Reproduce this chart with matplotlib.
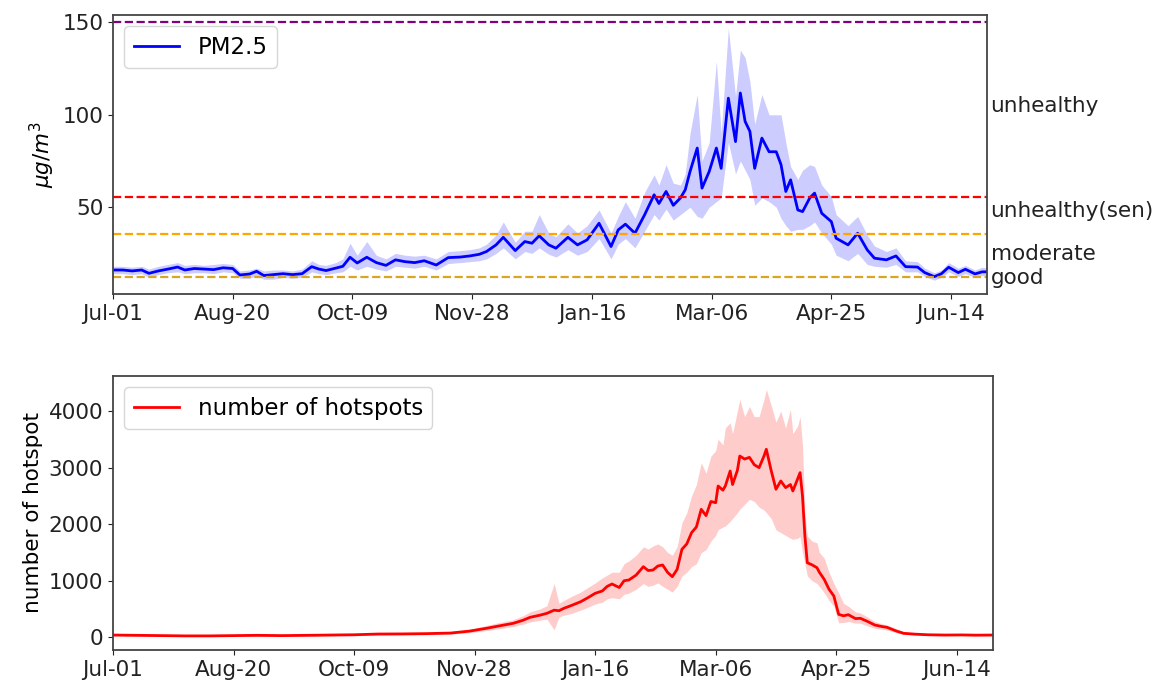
import numpy as np
import matplotlib
matplotlib.use('Agg')
import matplotlib.pyplot as plt

plt.rcParams.update({'font.size': 15.5, 'font.family': 'DejaVu Sans',
                     'axes.edgecolor': '#444444', 'axes.linewidth': 1.3,
                     'xtick.color': '#222222', 'ytick.color': '#222222'})

# days counted from Jul-01, one tick every 50 days
tick_days = [0, 50, 100, 150, 200, 250, 300, 350]
tick_labels = ['Jul-01', 'Aug-20', 'Oct-09', 'Nov-28', 'Jan-16', 'Mar-06', 'Apr-25', 'Jun-14']

# PM2.5 daily mean and spread (ug/m3)
pm_day = [0, 4, 8, 12, 15, 19, 23, 27, 30, 34, 38, 42, 46, 50, 53, 57, 60, 63, 67, 71,
          75, 79, 83, 86, 89, 93, 96, 99, 102, 106, 110, 114, 118, 122, 126, 130, 135, 140, 145, 149,
          153, 156, 160, 163, 168, 172, 175, 178, 182, 185, 190, 194, 198, 203, 208, 211, 214, 218, 222, 226,
          228, 231, 234, 237, 239, 241, 244, 246, 249, 252, 254, 257, 260, 262, 264, 266, 268, 271, 274, 277,
          279, 281, 283, 286, 288, 291, 293, 296, 300, 302, 307, 311, 315, 318, 323, 327, 331, 336, 339, 343,
          346, 349, 353, 356, 360, 363, 365]
pm_mean = [16, 16, 15.5, 16, 14.2, 15.5, 16.5, 17.6, 16, 16.8, 16.5, 16.2, 17.2, 16.8, 13.3, 13.8, 15.3, 13, 13.5, 14,
           13.5, 14, 17.8, 16.5, 15.7, 17, 18, 22.9, 19.8, 22.9, 20, 18.5, 21.5, 20.5, 20, 21, 18.7, 22.7, 23, 23.6,
           24.5, 26, 29.6, 33.7, 26.5, 31.4, 30.5, 34.5, 29.6, 27.8, 33.7, 29.6, 32.3, 41.3, 28.7, 37.7, 40.8, 35.9, 45.8, 56.7,
           52, 58.5, 51, 55, 59.4, 69.3, 82, 60.3, 69.3, 82, 71, 109, 85.5, 111.8, 96.4, 91, 71, 87.4, 80, 80,
           73, 58.5, 64.8, 48.5, 47.6, 55, 57.6, 46.7, 42.2, 33.2, 29.6, 35.9, 26.9, 22.4, 21.5, 23.6, 17.8, 17.6, 14.6, 12.4,
           14, 17.5, 14.6, 16.4, 13.9, 15, 15]
pm_lo = [14, 14, 13.5, 14, 12, 13.5, 14.5, 15, 14, 14.5, 14.5, 14, 15, 14.5, 11.5, 11.5, 13, 11, 11, 12,
         11.5, 12, 15, 14, 13.5, 14.5, 15, 18, 16, 18, 16.5, 15.5, 18, 17.5, 17, 18, 16, 19.5, 20, 20.5,
         21, 22, 25, 28, 22, 26, 25, 28, 24.5, 23, 27, 24, 26, 33, 22, 30, 33, 28, 37, 46,
         43, 49, 43, 46, 48, 50, 45, 44, 50, 53, 55, 85, 68, 75, 70, 65, 51, 55, 53, 50,
         44, 40, 37, 38, 38, 40, 42, 36, 30, 24, 21, 25, 19, 18, 17.5, 19, 15, 15, 12.5, 10.5,
         12, 15, 12.5, 14, 12, 13, 13]
pm_hi = [18, 18, 17.5, 18, 16.5, 18, 19, 20, 18.5, 19, 18.5, 19, 19.5, 19, 15.5, 16, 17, 15.5, 16, 16,
         15.5, 16.5, 21, 19, 18.5, 20, 22, 30.5, 24, 31.4, 24, 22, 25, 24, 23.5, 24, 22, 26, 26.5, 27,
         28, 30, 35, 42, 31, 37, 37, 46, 36, 34, 41, 36, 40, 48.5, 36, 45, 53, 44, 58, 67.5,
         62, 73, 63, 62, 68, 90, 111, 75, 85, 129, 90, 147, 110, 135, 131, 118, 95, 111, 100, 100,
         100, 85, 72, 65, 70, 73, 72, 62, 55.7, 46, 40, 45, 35, 29, 26, 28, 21, 20.5, 17, 14.5,
         16, 20, 17, 18.5, 16, 17.5, 17]

# daily hotspot counts and spread
hs_day = [0, 10, 20, 30, 40, 50, 60, 70, 80, 90, 100, 110, 120, 130, 140, 148, 155, 160, 166, 170,
          173, 177, 180, 183, 185, 187, 190, 194, 197, 200, 203, 205, 207, 210, 212, 214, 217, 220, 222, 224,
          226, 228, 230, 232, 234, 236, 238, 240, 242, 244, 246, 248, 250, 251, 253, 254, 256, 257, 259, 260,
          262, 264, 266, 268, 270, 271, 273, 275, 277, 279, 281, 282, 284, 285, 286, 287, 288, 290, 292, 293,
          295, 297, 299, 301, 303, 305, 308, 310, 313, 316, 319, 321, 325, 328, 333, 338, 345, 352, 358, 365]
hs_mean = [40, 35, 30, 25, 25, 30, 35, 30, 35, 40, 45, 58, 60, 65, 75, 110, 160, 200, 247, 300,
           353, 390, 424, 480, 470, 512, 560, 629, 700, 777, 820, 900, 942, 880, 1000, 1013, 1100, 1248, 1180, 1189,
           1260, 1278, 1150, 1071, 1200, 1555, 1650, 1849, 1950, 2262, 2150, 2400, 2379, 2674, 2600, 2674, 2939, 2700, 2950, 3204,
           3150, 3180, 3050, 2998, 3200, 3323, 2950, 2616, 2763, 2645, 2700, 2586, 2800, 2910, 2500, 1790, 1318, 1280, 1230, 1150,
           1025, 850, 730, 406, 380, 400, 330, 336, 280, 217, 190, 177, 110, 70, 55, 45, 40, 42, 38, 40]
hs_lo = [25, 20, 18, 15, 15, 18, 20, 18, 20, 25, 28, 40, 42, 45, 55, 80, 120, 150, 190, 230,
         270, 300, 320, 130, 360, 390, 420, 480, 530, 590, 620, 680, 700, 680, 760, 780, 850, 950, 900, 920,
         960, 900, 850, 800, 900, 1083, 1150, 1250, 1300, 1496, 1550, 1700, 1800, 1900, 1950, 1967, 2050, 2100, 2200, 2262,
         2350, 2439, 2400, 2300, 2250, 2203, 2100, 1900, 1849, 1800, 1750, 1731, 1750, 1780, 1500, 1300, 1083, 1000, 950, 900,
         788, 650, 550, 258, 260, 280, 250, 250, 200, 160, 140, 130, 80, 50, 40, 30, 28, 30, 25, 28]
hs_hi = [55, 50, 45, 40, 40, 45, 50, 45, 50, 55, 62, 75, 80, 85, 100, 140, 210, 260, 310, 380,
         450, 500, 560, 954, 600, 650, 720, 800, 880, 960, 1050, 1100, 1150, 1150, 1300, 1350, 1450, 1600, 1560, 1614,
         1650, 1600, 1500, 1450, 1600, 2026, 2200, 2500, 2700, 3086, 2900, 3200, 3300, 3500, 3400, 3700, 3793, 3600, 4000, 4206,
         3900, 4080, 3900, 3900, 4200, 4383, 4100, 3800, 4000, 3700, 4030, 3600, 3735, 3900, 3400, 2200, 1790, 1700, 1670, 1500,
         1400, 1150, 950, 788, 600, 550, 450, 430, 360, 280, 240, 220, 150, 100, 75, 60, 55, 55, 52, 55]

# AQI breakpoints and the band names written to the right
aqi_lines = [(12, 'goldenrod'), (35.4, 'orange'), (55.4, 'red'), (150, 'purple')]
aqi_names = ['good', 'moderate', 'unhealthy(sen)', 'unhealthy']
aqi_name_y = [11.5, 24.7, 48, 105]

fig = plt.figure(figsize=(11.73, 6.86), dpi=100)
ax1 = fig.add_axes([0.0963, 0.5714, 0.7451, 0.4067])
ax2 = fig.add_axes([0.0963, 0.0525, 0.7502, 0.3994])

ax1.plot(pm_day, pm_mean, color='blue', lw=2, label='PM2.5')
ax1.fill_between(pm_day, pm_lo, pm_hi, color='blue', alpha=0.2, lw=0)
for val, col in aqi_lines:
    ax1.axhline(val, color=col, ls='--', lw=1.6)
for name, yy in zip(aqi_names, aqi_name_y):
    ax1.text(366.5, yy, name, ha='left', va='center', fontsize=15.5, color='#222222', clip_on=False)
ax1.set_xlim(0, 365)
ax1.set_ylim(3, 154)
ax1.set_yticks([50, 100, 150])
ax1.set_ylabel(r'$\mu g/m^3$')
ax1.legend(loc='upper left', fontsize=16.5)

ax2.plot(hs_day, hs_mean, color='red', lw=2, label='number of hotspots')
ax2.fill_between(hs_day, hs_lo, hs_hi, color='red', alpha=0.2, lw=0)
ax2.set_xlim(0, 365)
ax2.set_ylim(-224, 4618)
ax2.set_yticks([0, 1000, 2000, 3000, 4000])
ax2.set_ylabel('number of hotspot')
ax2.legend(loc='upper left', fontsize=16.5)

for ax in (ax1, ax2):
    ax.set_xticks(tick_days)
    ax.set_xticklabels(tick_labels)

fig.savefig('out.png', dpi=100)
